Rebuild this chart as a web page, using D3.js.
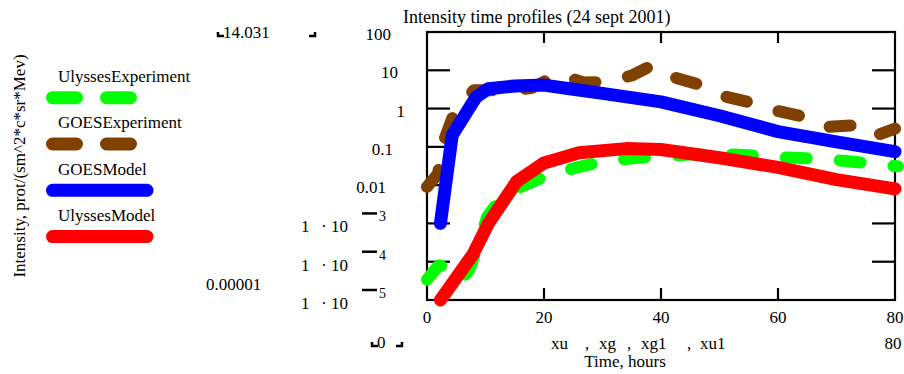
<!DOCTYPE html>
<html>
<head>
<script src="https://d3js.org/d3.v7.min.js"></script>
<style>
  body { margin: 0; background: #fff; }
  svg text { font-family: "Liberation Serif", "Times New Roman", serif; font-size: 17px; fill: #000; }
</style>
</head>
<body>
<svg id="chart" width="904" height="374"></svg>
<script>
// hours, intensity
var ulyssesExpT = [0, 2, 3.3, 4.5, 5.8, 7.3, 8.8, 10.3, 13, 16, 21, 26, 30, 35, 40, 45, 50, 55, 60, 65, 70, 75, 80.5];
var ulyssesExpV = [3.4e-5, 8e-5, 7.5e-5, 5e-5, 3.2e-5, 6.5e-5, 3e-4, 1.5e-3, 5.5e-3, 9e-3, 0.019, 0.03, 0.041, 0.05, 0.057, 0.063, 0.066, 0.06, 0.054, 0.05, 0.045, 0.038, 0.031];

var goesExpT = [0, 1.9, 2.5, 4.4, 6.2, 8, 12, 15, 18, 22.6, 26.7, 30.7, 35, 38.5, 42.3, 46.4, 50.2, 54.8, 59.4, 63.6, 68, 72.5, 76, 80];
var goesExpV = [0.009, 0.02, 0.1, 0.6, 1.6, 3, 3, 3, 3.5, 8, 4.8, 5, 7.3, 13.5, 6.5, 4.3, 2.2, 1.5, 0.9, 0.65, 0.33, 0.36, 0.18, 0.3];

var goesModT = [2.3, 4.3, 8.4, 10.5, 15, 20, 25, 30, 40, 50, 60, 70, 80];
var goesModV = [0.001, 0.2, 2, 3.3, 3.9, 4.1, 3.2, 2.5, 1.5, 0.65, 0.25, 0.135, 0.075];

var ulyssesModT = [2.3, 7.9, 10.5, 15.3, 20, 26, 34, 40, 50, 60, 70, 80];
var ulyssesModV = [1e-5, 1.6e-4, 1e-3, 0.0123, 0.038, 0.07, 0.09, 0.085, 0.052, 0.029, 0.014, 0.008];

var seriesNames = ["UlyssesExperiment", "GOESExperiment", "GOESModel", "UlyssesModel"];
var seriesColors = ["#00ff00", "#804000", "#0000ff", "#ff0000"];

var yTickValues = [1e-5, 1e-4, 1e-3, 0.01, 0.1, 1, 10, 100];
var yTickLabels = ["", "", "", "0.01", "0.1", "1", "10", "100"];
var xTickValues = [0, 20, 40, 60, 80];

var svg = d3.select("#chart");

var x = d3.scaleLinear().domain([0, 80]).range([427, 895]);
var y = d3.scaleLog().domain([1e-5, 100]).range([300, 32]);

var series = [
  { t: ulyssesExpT, v: ulyssesExpV, dash: "21,33" },
  { t: goesExpT, v: goesExpV, dash: "21,33" },
  { t: goesModT, v: goesModV, dash: null },
  { t: ulyssesModT, v: ulyssesModV, dash: null }
];

// frame
svg.append("rect")
  .attr("x", x(0)).attr("y", y(100))
  .attr("width", x(80) - x(0)).attr("height", y(1e-5) - y(100))
  .attr("fill", "none").attr("stroke", "#000").attr("stroke-width", 2.2);

// inward ticks
var inner = yTickValues.slice(1, -1);
svg.append("g").selectAll("line.yl").data(inner).enter().append("line")
  .attr("x1", x(0)).attr("x2", x(0) + 23)
  .attr("y1", function(d) { return y(d); }).attr("y2", function(d) { return y(d); })
  .attr("stroke", "#000").attr("stroke-width", 2.2);
svg.append("g").selectAll("line.yr").data(inner).enter().append("line")
  .attr("x1", x(80)).attr("x2", x(80) - 23)
  .attr("y1", function(d) { return y(d); }).attr("y2", function(d) { return y(d); })
  .attr("stroke", "#000").attr("stroke-width", 2.2);
var xin = xTickValues.slice(1, -1);
svg.append("g").selectAll("line.xb").data(xin).enter().append("line")
  .attr("x1", function(d) { return x(d); }).attr("x2", function(d) { return x(d); })
  .attr("y1", y(1e-5)).attr("y2", y(1e-5) - 12)
  .attr("stroke", "#000").attr("stroke-width", 2.2);
svg.append("g").selectAll("line.xt").data(xin).enter().append("line")
  .attr("x1", function(d) { return x(d); }).attr("x2", function(d) { return x(d); })
  .attr("y1", y(100)).attr("y2", y(100) + 11)
  .attr("stroke", "#000").attr("stroke-width", 2.2);

// series
var line = d3.line()
  .x(function(d) { return x(d[0]); })
  .y(function(d) { return y(d[1]); });

series.forEach(function(s, i) {
  var pts = s.t.map(function(t, k) { return [t, s.v[k]]; });
  svg.append("path")
    .attr("d", line(pts))
    .attr("fill", "none")
    .attr("stroke", seriesColors[i])
    .attr("stroke-width", s.dash ? 12 : 13)
    .attr("stroke-linecap", "round")
    .attr("stroke-linejoin", "round")
    .attr("stroke-dasharray", s.dash);
});

// x tick labels
svg.append("g").selectAll("text").data(xTickValues).enter().append("text")
  .attr("x", function(d) { return x(d); })
  .attr("y", 323)
  .attr("text-anchor", "middle")
  .text(function(d) { return d; });

// y tick labels (mathcad puts them a bit everywhere)
var labelRight = [0, 0, 0, 386, 393, 405, 398, 391];
svg.append("g").selectAll("text").data(yTickValues).enter().append("text")
  .attr("x", function(d, i) { return labelRight[i]; })
  .attr("y", function(d) { return y(d) + 8; })
  .attr("text-anchor", "end")
  .text(function(d, i) { return yTickLabels[i]; });

// 1 · 10^-n labels
var expo = [3, 4, 5];
var eg = svg.append("g").selectAll("g").data(expo).enter().append("g")
  .attr("transform", function(d) { return "translate(0," + (y(Math.pow(10, -d)) + 9) + ")"; });
eg.append("text").attr("x", 301).attr("y", 0).text("1");
eg.append("text").attr("x", 321).attr("y", 0).text("\u00b7 10");
eg.append("line").attr("x1", 362).attr("x2", 377).attr("y1", -19).attr("y2", -19)
  .attr("stroke", "#000").attr("stroke-width", 2.5);
eg.append("text").attr("x", 379).attr("y", -11).style("font-size", "14px")
  .text(function(d) { return d; });

svg.append("text").attr("x", 206).attr("y", 290).text("0.00001");

// placeholders
function corner(cx, cy, right) {
  var p = right
    ? "M" + (cx - 6) + "," + cy + "H" + cx + "V" + (cy - 4)
    : "M" + cx + "," + (cy - 4) + "V" + cy + "H" + (cx + 6);
  svg.append("path").attr("d", p).attr("fill", "none").attr("stroke", "#000").attr("stroke-width", 2.5);
}
corner(218, 36, false);
corner(315, 36, true);
svg.append("text").attr("x", 223).attr("y", 38).text("14.031");
corner(372, 346, false);
corner(402, 346, true);
svg.append("text").attr("x", 377).attr("y", 348).text("0");

// axis titles
svg.append("text").attr("x", 403).attr("y", 23).style("font-size", "18px").text("Intensity time profiles (24 sept 2001)");
svg.append("text").attr("x", 551).attr("y", 349).text("xu");
svg.append("text").attr("x", 585).attr("y", 349).text(",");
svg.append("text").attr("x", 599).attr("y", 349).text("xg");
svg.append("text").attr("x", 627).attr("y", 349).text(",");
svg.append("text").attr("x", 641).attr("y", 349).text("xg1");
svg.append("text").attr("x", 687).attr("y", 349).text(",");
svg.append("text").attr("x", 700).attr("y", 349).text("xu1");
svg.append("text").attr("x", 893).attr("y", 349).attr("text-anchor", "middle").text("80");
svg.append("text").attr("x", 625).attr("y", 367).attr("text-anchor", "middle").text("Time, hours");

svg.append("text")
  .attr("transform", "translate(25,166) rotate(-90)")
  .attr("text-anchor", "middle")
  .text("Intensity, prot/(sm^2*c*sr*Mev)");

// legend
var leg = svg.append("g").selectAll("g").data(seriesNames).enter().append("g")
  .attr("transform", function(d, i) { return "translate(0," + (i * 46.3) + ")"; });
leg.append("text").attr("x", 58).attr("y", 82).text(function(d) { return d; });
leg.append("line")
  .attr("x1", 52.5).attr("x2", 147).attr("y1", 97.7).attr("y2", 97.7)
  .attr("stroke", function(d, i) { return seriesColors[i]; })
  .attr("stroke-width", 13)
  .attr("stroke-linecap", "round")
  .attr("stroke-dasharray", function(d, i) { return series[i].dash ? "24,30" : null; });
</script>
</body>
</html>
